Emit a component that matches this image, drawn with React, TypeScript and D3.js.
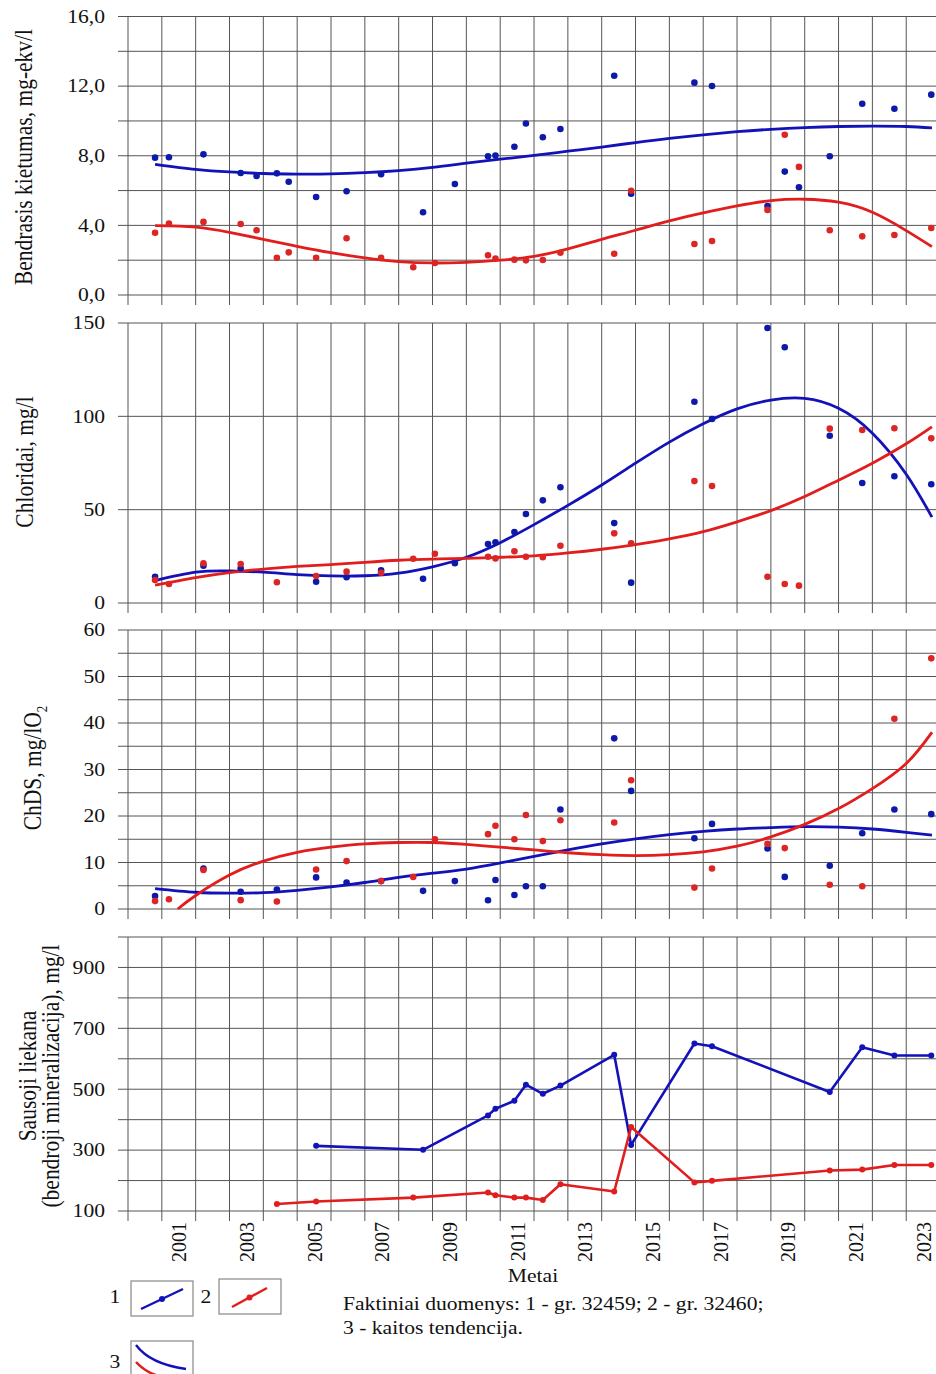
import React from 'react'
import * as d3 from 'd3'

// sampling dates (decimal years), well 1 = gr. 32459 (blue), well 2 = gr. 32460 (red)
const blueTimes = [2000.8, 2001.21, 2002.23, 2003.33, 2003.8, 2004.4, 2004.75, 2005.56, 2006.46, 2007.48,
  2008.72, 2009.66, 2010.64, 2010.86, 2011.42, 2011.76, 2012.26, 2012.78, 2014.37, 2014.87,
  2016.74, 2017.26, 2018.9, 2019.41, 2019.83, 2020.74, 2021.7, 2022.65, 2023.74]
const redTimes = [2000.8, 2001.21, 2002.23, 2003.33, 2003.8, 2004.4, 2004.75, 2005.56, 2006.46, 2007.48,
  2008.43, 2009.07, 2010.64, 2010.86, 2011.42, 2011.76, 2012.26, 2012.78, 2014.37, 2014.87,
  2016.74, 2017.26, 2018.9, 2019.41, 2019.83, 2020.74, 2021.7, 2022.65, 2023.74]

// Bendrasis kietumas, mg-ekv/l
const hardnessBlue = [7.89, 7.91, 8.08, 7.01, 6.84, 6.99, 6.51, 5.63, 5.96, 6.94, 4.75, 6.38, 7.97, 8.01,
  8.52, 9.85, 9.06, 9.54, 12.6, 5.82, 12.2, 12.01, 5.11, 7.09, 6.19, 7.97, 10.99, 10.7, 11.51]
const hardnessRed = [3.58, 4.1, 4.2, 4.08, 3.72, 2.14, 2.45, 2.14, 3.26, 2.13, 1.59, 1.84, 2.28, 2.09,
  2.03, 1.99, 2.01, 2.43, 2.37, 5.99, 2.93, 3.1, 4.89, 9.21, 7.36, 3.72, 3.37, 3.45, 3.85]

// Chloridai, mg/l
const chlorideBlue = [14.1, null, 20.0, 18.6, null, null, null, 11.4, 13.8, 17.5, 13.0, 21.3, 31.6, 32.5,
  38.0, 47.7, 55.0, 62.0, 42.8, 10.9, 107.8, 98.6, 147.3, 137.0, null, 89.6, 64.3, 67.9, 63.6]
const chlorideRed = [12.3, 10.2, 21.3, 20.9, null, 11.1, null, 14.5, 16.8, 16.2, 23.7, 26.4, 24.8, 23.9,
  27.7, 24.8, 24.5, 30.7, 37.3, 32.0, 65.3, 62.7, 14.1, 10.2, 9.3, 93.4, 92.7, 93.6, 88.2]

// ChDS, mg/lO2
const codBlue = [2.8, null, 8.7, 3.7, null, 4.2, null, 6.8, 5.7, 6.0, 3.9, 6.0, 1.87, 6.24,
  3.0, 4.9, 4.9, 21.4, 36.7, 25.4, 15.2, 18.3, 13.0, 6.9, null, 9.3, 16.3, 21.4, 20.4]
const codRed = [1.7, 2.1, 8.4, 1.9, null, 1.6, null, 8.5, 10.3, 6.0, 6.9, 15.0, 16.1, 17.9,
  15.0, 20.2, 14.6, 19.1, 18.6, 27.7, 4.6, 8.7, 14.0, 13.1, null, 5.2, 4.9, 40.9, 53.9]

// Sausoji liekana, mg/l
const residueBlue = [null, null, null, null, null, null, null, 314, null, null, 301, null, 414, 436,
  462, 515, 485, 512, 613, 317, 650, 641, null, null, null, 491, 638, 611, 611]
const residueRed = [null, null, null, null, null, 123, null, 131, null, null, 144, null, 161, 152,
  144, 144, 136, 188, 164, 376, 194, 199, null, null, null, 233, 236, 251, 251]

// trend curves (kaitos tendencija)
const trendTimes = [2000.8, 2002, 2003, 2004, 2005, 2006, 2007, 2008, 2009, 2010, 2011, 2012,
  2013, 2014, 2015, 2016, 2017, 2018, 2019, 2020, 2021, 2022, 2023, 2023.76]
const hardnessBlueTrend = [7.51, 7.22, 7.07, 6.98, 6.95, 6.96, 7.03, 7.15, 7.33, 7.57, 7.8, 8.02,
  8.26, 8.5, 8.76, 9.0, 9.2, 9.38, 9.52, 9.62, 9.68, 9.7, 9.68, 9.6]
const hardnessRedTrend = [3.98, 3.9, 3.6, 3.2, 2.8, 2.43, 2.13, 1.92, 1.84, 1.88, 2.0, 2.22,
  2.65, 3.2, 3.72, 4.26, 4.72, 5.12, 5.42, 5.5, 5.33, 4.75, 3.7, 2.78]
const chlorideBlueTrend = [12.0, 16.5, 17.2, 16.5, 15.2, 14.5, 14.6, 16.0, 19.4, 24.5, 32.3, 42.0,
  52.3, 63.2, 74.9, 86.2, 96.0, 104.0, 108.7, 109.6, 104.3, 91.0, 69.0, 46.0]
const chlorideRedTrend = [9.6, 13.6, 16.3, 18.2, 19.6, 20.6, 21.8, 22.9, 23.5, 23.9, 24.5, 25.3,
  26.8, 28.8, 31.3, 34.4, 38.2, 43.5, 49.5, 57.0, 65.8, 74.9, 85.3, 94.4]
const codBlueTrend = [4.4, 3.6, 3.4, 3.5, 4.0, 4.75, 5.7, 6.8, 7.7, 8.6, 9.9, 11.3,
  12.7, 14.0, 15.1, 16.0, 16.7, 17.2, 17.5, 17.7, 17.6, 17.2, 16.5, 15.9]
const codRedTrendTimes = [2001.47, 2002, 2003, 2004, 2005, 2006, 2007, 2008, 2009, 2010, 2011, 2012,
  2013, 2014, 2015, 2016, 2017, 2018, 2019, 2020, 2021, 2022, 2023, 2023.76]
const codRedTrend = [0, 2.9, 7.3, 10.3, 12.2, 13.3, 14.0, 14.3, 14.3, 13.9, 13.3, 12.7,
  12.1, 11.7, 11.5, 11.7, 12.3, 13.5, 15.5, 18.2, 21.6, 25.9, 31.3, 38.0]

const xTickYears = [2001, 2003, 2005, 2007, 2009, 2011, 2013, 2015, 2017, 2019, 2021, 2023]
const hardnessTicks = [0, 4, 8, 12, 16]
const chlorideTicks = [0, 50, 100, 150]
const codTicks = [0, 10, 20, 30, 40, 50, 60]
const residueTicks = [100, 300, 500, 700, 900]

const BLUE = '#1212b8'
const RED = '#e21d1d'
const BLUE_PT = '#0d1aa8'
const RED_PT = '#dc2626'
const GRID = '#555'
const FONT = '"Liberation Serif", "Times New Roman", serif'
const SX = 1.2 // the picture is stretched horizontally

const W = 936
const H = 1374
const plotLeft = 128

const x = d3.scaleLinear().domain([2000, 2023.88]).range([plotLeft, W])

const pairs = (ts: number[], vs: (number | null)[]) =>
  ts.map((t, i) => ({ t, v: vs[i] })).filter(d => d.v !== null) as { t: number, v: number }[]

const panels = [
  {
    title: ['Bendrasis kietumas, mg-ekv/l'], titleX: [32], titleY: 157,
    domain: [0, 16], top: 16.5, bottom: 295, step: 2, ticks: hardnessTicks,
    fmt: (v: number) => v.toFixed(1).replace('.', ','),
    blue: pairs(blueTimes, hardnessBlue), red: pairs(redTimes, hardnessRed),
    blueTrend: pairs(trendTimes, hardnessBlueTrend), redTrend: pairs(trendTimes, hardnessRedTrend),
    lines: false
  },
  {
    title: ['Chloridai, mg/l'], titleX: [33], titleY: 462,
    domain: [0, 150], top: 323, bottom: 603, step: 50, ticks: chlorideTicks,
    fmt: (v: number) => String(v),
    blue: pairs(blueTimes, chlorideBlue), red: pairs(redTimes, chlorideRed),
    blueTrend: pairs(trendTimes, chlorideBlueTrend), redTrend: pairs(trendTimes, chlorideRedTrend),
    lines: false
  },
  {
    title: ['ChDS, mg/lO'], titleX: [41], titleY: 768,
    domain: [0, 60], top: 630, bottom: 909, step: 5, ticks: codTicks,
    fmt: (v: number) => String(v),
    blue: pairs(blueTimes, codBlue), red: pairs(redTimes, codRed),
    blueTrend: pairs(trendTimes, codBlueTrend), redTrend: pairs(codRedTrendTimes, codRedTrend),
    lines: false
  },
  {
    title: ['Sausoji liekana', '(bendroji mineralizacija), mg/l'], titleX: [36, 59], titleY: 1076,
    domain: [100, 1000], top: 937, bottom: 1211, step: 100, ticks: residueTicks,
    fmt: (v: number) => String(v),
    blue: pairs(blueTimes, residueBlue), red: pairs(redTimes, residueRed),
    blueTrend: [], redTrend: [],
    lines: true
  }
]

const gridYears = d3.range(2000, 2024)

function Panel({ p }: { p: typeof panels[number] }) {
  const y = d3.scaleLinear().domain(p.domain).range([p.bottom, p.top])
  const hLines = d3.range(p.domain[0], p.domain[1] + 0.001, p.step)
  const trend = d3.line<{ t: number, v: number }>().x(d => x(d.t)).y(d => y(d.v)).curve(d3.curveNatural)
  const poly = d3.line<{ t: number, v: number }>().x(d => x(d.t)).y(d => y(d.v))
  const isCod = p.title[0].startsWith('ChDS')
  return (
    <g>
      {hLines.map(v => (
        <line key={'h' + v} x1={plotLeft - 10} x2={W} y1={y(v)} y2={y(v)} stroke={GRID} strokeWidth={1} />
      ))}
      {gridYears.map(yr => (
        <line key={'v' + yr} x1={x(yr)} x2={x(yr)} y1={p.top} y2={p.bottom + 10} stroke={GRID} strokeWidth={1} />
      ))}
      {p.ticks.map(v => (
        <text key={'t' + v} transform={`translate(105,${y(v)}) scale(${SX},1)`} textAnchor="end" dy="0.35em"
          fontSize={18} fill="#111">{p.fmt(v)}</text>
      ))}
      {p.title.map((s, i) => (
        <text key={'ti' + i} transform={`translate(${p.titleX[i]},${p.titleY}) scale(${SX},1) rotate(-90)`}
          textAnchor="middle" fontSize={21.5} fill="#111">
          {s}{isCod ? <tspan fontSize={13} dy={5}>2</tspan> : null}
        </text>
      ))}
      {p.lines ? (
        <g>
          <path d={poly(p.blue) || ''} fill="none" stroke={BLUE} strokeWidth={2.6} strokeLinejoin="round" />
          <path d={poly(p.red) || ''} fill="none" stroke={RED} strokeWidth={2.6} strokeLinejoin="round" />
          {p.blue.map((d, i) => <circle key={'bm' + i} cx={x(d.t)} cy={y(d.v)} r={3} fill={BLUE} />)}
          {p.red.map((d, i) => <circle key={'rm' + i} cx={x(d.t)} cy={y(d.v)} r={3} fill={RED} />)}
        </g>
      ) : (
        <g>
          <path d={trend(p.blueTrend) || ''} fill="none" stroke={BLUE} strokeWidth={2.8} />
          <path d={trend(p.redTrend) || ''} fill="none" stroke={RED} strokeWidth={2.8} />
          {p.blue.map((d, i) => <circle key={'b' + i} cx={x(d.t)} cy={y(d.v)} r={3.3} fill={BLUE_PT} />)}
          {p.red.map((d, i) => <circle key={'r' + i} cx={x(d.t)} cy={y(d.v)} r={3.3} fill={RED_PT} />)}
        </g>
      )}
    </g>
  )
}

function txt(xp: number, yp: number, s: string, size: number, anchor = 'start') {
  return (
    <text transform={`translate(${xp},${yp}) scale(${SX},1)`} textAnchor={anchor} fontSize={size} fill="#111">{s}</text>
  )
}

export default function App() {
  return (
    <svg width={W} height={H} style={{ position: 'absolute', left: 0, top: 0, display: 'block', background: '#fff' }}
      fontFamily={FONT}>
      <rect width={W} height={H} fill="#fff" />
      {panels.map((p, i) => <Panel key={i} p={p} />)}
      {xTickYears.map(yr => (
        <text key={yr} transform={`translate(${x(yr) + 17},1222) scale(1.1,1) rotate(-90)`} textAnchor="end"
          dominantBaseline="central" fontSize={20} fill="#111">{yr}</text>
      ))}
      {txt(533, 1282, 'Metai', 18, 'middle')}
      {txt(343, 1310, 'Faktiniai duomenys: 1 - gr. 32459; 2 - gr. 32460;', 18)}
      {txt(343, 1334, '3 - kaitos tendencija.', 18)}
      {txt(115, 1303, '1', 18, 'middle')}
      {txt(206, 1303, '2', 18, 'middle')}
      {txt(115, 1368, '3', 18, 'middle')}
      <rect x={131} y={1281} width={62} height={35} fill="#fff" stroke="#888" strokeWidth={1.2} />
      <line x1={141} y1={1309} x2={183} y2={1289} stroke={BLUE} strokeWidth={2.4} />
      <circle cx={162} cy={1299} r={3} fill={BLUE} />
      <rect x={219} y={1279} width={62} height={35} fill="#fff" stroke="#888" strokeWidth={1.2} />
      <line x1={232} y1={1307} x2={267} y2={1288} stroke={RED} strokeWidth={2.4} />
      <circle cx={249.5} cy={1297.5} r={3} fill={RED} />
      <rect x={131} y={1341} width={62} height={40} fill="#fff" stroke="#888" strokeWidth={1.2} />
      <path d="M136,1345 Q150,1364 186,1369" fill="none" stroke={BLUE} strokeWidth={2.4} />
      <path d="M136,1362 Q146,1373 162,1377" fill="none" stroke={RED} strokeWidth={2.6} />
    </svg>
  )
}
